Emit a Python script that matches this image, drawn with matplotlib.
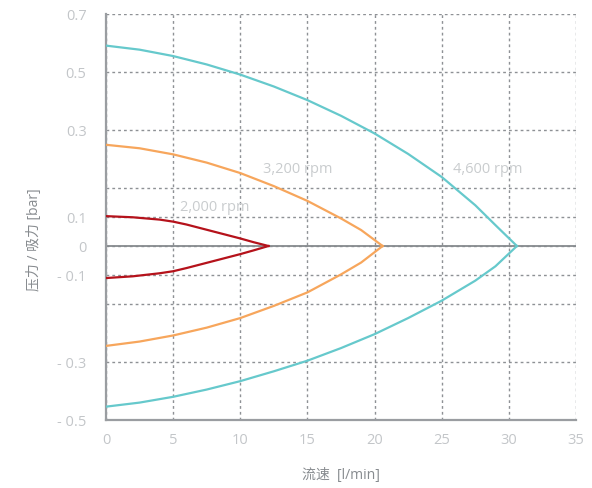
import numpy as np
import matplotlib
matplotlib.use("Agg")
import matplotlib.pyplot as plt

plt.rcParams['font.family'] = ['Open Sans', 'Noto Sans CJK SC', 'DejaVu Sans']

# 流速 [l/min] と 圧力/吸力 [bar] の読み取り値
x_2000_up = [0, 2, 4, 5, 6, 7, 8.5, 10, 11, 12.1]
y_2000_up = [0.102, 0.099, 0.091, 0.084, 0.074, 0.062, 0.044, 0.026, 0.013, 0.0]
x_2000_dn = [0, 2, 4, 5, 6, 7, 8.5, 10, 11, 12.1]
y_2000_dn = [-0.107, -0.103, -0.094, -0.087, -0.076, -0.064, -0.046, -0.028, -0.015, 0.0]

x_3200_up = [0, 2.5, 5, 7.5, 10, 12.5, 15, 17.5, 19, 20.6]
y_3200_up = [0.266, 0.258, 0.244, 0.225, 0.201, 0.171, 0.137, 0.095, 0.055, 0.0]
x_3200_dn = [0, 2.5, 5, 7.5, 10, 12.5, 15, 17.5, 19, 20.6]
y_3200_dn = [-0.263, -0.253, -0.239, -0.221, -0.199, -0.171, -0.140, -0.098, -0.057, 0.0]

x_4600_up = [0, 2.5, 5, 7.5, 10, 12.5, 15, 17.5, 20, 22.5, 25, 27.5, 29, 30.6]
y_4600_up = [0.591, 0.577, 0.555, 0.526, 0.491, 0.450, 0.403, 0.349, 0.292, 0.245,
             0.192, 0.127, 0.072, 0.0]
x_4600_dn = [0, 2.5, 5, 7.5, 10, 12.5, 15, 17.5, 20, 22.5, 25, 27.5, 29, 30.6]
y_4600_dn = [-0.454, -0.440, -0.420, -0.395, -0.366, -0.332, -0.297, -0.268, -0.236,
             -0.199, -0.159, -0.113, -0.070, 0.0]

labels_rpm = ['2,000 rpm', '3,200 rpm', '4,600 rpm']
label_x = [8.1, 14.3, 28.4]
label_y = [0.125, 0.211, 0.211]

# 縦軸の目盛り（元図は非線形の目盛り間隔）
y_tick_vals = [-0.5, -0.3, -0.1, 0, 0.1, 0.3, 0.5, 0.7]
y_tick_pos = [-6, -4, -1, 0, 1, 4, 6, 8]
y_tick_labels = ['- 0.5', '- 0.3', '- 0.1', '0', '0.1', '0.3', '0.5', '0.7']
y_extra_grid = [-0.1 - 0.2 / 3, 0.1 + 0.2 / 3]
x_ticks = [0, 5, 10, 15, 20, 25, 30, 35]

c_red = '#b5121b'
c_orange = '#f7a65c'
c_cyan = '#66c9cc'
c_tick = '#c3c6c9'
c_label = '#878b8f'
c_grid = '#8e9195'
c_axis = '#9a9da1'


def fwd(v):
    return np.interp(v, y_tick_vals, y_tick_pos)


def inv(u):
    return np.interp(u, y_tick_pos, y_tick_vals)


fig = plt.figure(figsize=(5.92, 4.89), dpi=100)
ax = fig.add_axes([106 / 592, 68 / 489, 470 / 592, 406 / 489])
ax.set_yscale('function', functions=(fwd, inv))
ax.set_xlim(0, 35)
ax.set_ylim(-0.5, 0.7)

ax.set_xticks(x_ticks)
ax.set_yticks(y_tick_vals)
ax.set_yticklabels(y_tick_labels)
ax.set_yticks(y_extra_grid, minor=True)
ax.tick_params(which='both', length=0, colors=c_tick, labelsize=10.5)
ax.tick_params(axis='x', pad=9)
ax.tick_params(axis='y', pad=14)

ax.grid(True, which='both', color=c_grid, linestyle=(0, (2, 2.2)), linewidth=1)
ax.axhline(0, color='#868a8e', linewidth=1.3, zorder=2)

for s in ['top', 'right']:
    ax.spines[s].set_visible(False)
for s in ['left', 'bottom']:
    ax.spines[s].set_color(c_axis)
    ax.spines[s].set_linewidth(1.6)

ax.plot(x_2000_up, y_2000_up, color=c_red, lw=1.6, zorder=3)
ax.plot(x_2000_dn, y_2000_dn, color=c_red, lw=1.6, zorder=3)
ax.plot(x_3200_up, y_3200_up, color=c_orange, lw=1.6, zorder=3)
ax.plot(x_3200_dn, y_3200_dn, color=c_orange, lw=1.6, zorder=3)
ax.plot(x_4600_up, y_4600_up, color=c_cyan, lw=1.6, zorder=3)
ax.plot(x_4600_dn, y_4600_dn, color=c_cyan, lw=1.6, zorder=3)

for t, tx, ty in zip(labels_rpm, label_x, label_y):
    ax.text(tx, ty, t, color='#c9ccce', fontsize=10.5, ha='center', va='center', zorder=4)

ax.set_xlabel('流速  [l/min]', color=c_label, fontsize=10, labelpad=14)
ax.set_ylabel('压力 / 吸力 [bar]', color=c_label, fontsize=10)
ax.yaxis.set_label_coords(-0.136, 0.446)

fig.savefig('out.png', dpi=100)
